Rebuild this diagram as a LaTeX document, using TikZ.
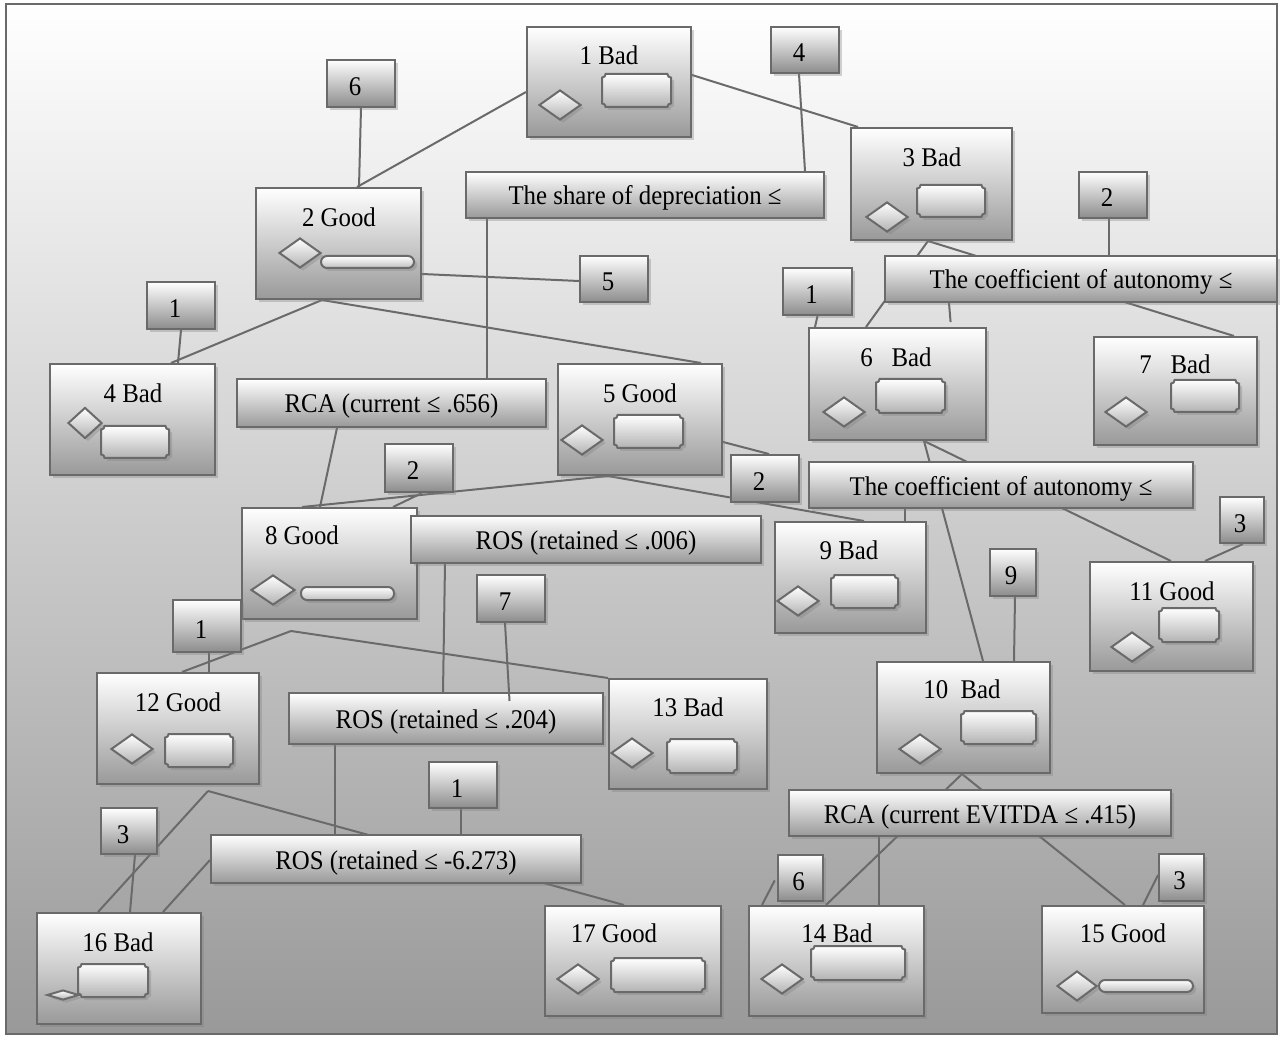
\documentclass[tikz,border=0pt]{standalone}
\usepackage{fontspec}
\setmainfont{Liberation Serif}[FakeStretch=0.92]
\usetikzlibrary{shapes.geometric,shadows}
\pgfdeclarelayer{back}
\pgfdeclarelayer{wires}
\pgfsetlayers{back,wires,main}
\definecolor{edgegray}{HTML}{6A6A6A}
\tikzset{
  shade box/.style={draw=edgegray, line width=1pt, top color=white, bottom color=black!40, inner sep=0pt,
    drop shadow={shadow xshift=1.5pt, shadow yshift=-1.5pt, opacity=0.35}},
  leafbox/.style={shade box, rectangle},
  condbox/.style={shade box, rectangle, font=\fontsize{13.5}{15}\selectfont, text height=11pt, text depth=1pt},
  numbox/.style={shade box, rectangle, bottom color=black!45, font=\fontsize{13.5}{15}\selectfont,
    text height=12pt, text depth=0pt, execute at begin node={\hspace*{-6pt}}},
  numboxr/.style={numbox, execute at begin node={}, execute at end node={\hspace*{-4pt}}},
  leaftext/.style={font=\fontsize{13.5}{15}\selectfont, inner sep=0pt},
  dia/.style={diamond, shade box, bottom color=black!30, minimum width=21pt, minimum height=15pt},
  plq/.style={shade box, bottom color=black!30},
  pill/.style={rectangle, rounded corners=3pt, shade box, bottom color=black!25},
  link/.style={draw=edgegray, line width=1pt},
}
% plaque with notched corners: name, x, y, half width (pt), half height (pt)
\newcommand{\plaquebox}[5]{%
  \coordinate (#1) at (#2,#3);
  \path[plq] ([shift={(-#4pt+1.8pt,#5pt)}]#1) -- ([shift={(#4pt-1.8pt,#5pt)}]#1)
    arc[start angle=180, end angle=270, radius=1.8pt] -- ([shift={(#4pt,-#5pt+1.8pt)}]#1)
    arc[start angle=90, end angle=180, radius=1.8pt] -- ([shift={(-#4pt+1.8pt,-#5pt)}]#1)
    arc[start angle=0, end angle=90, radius=1.8pt] -- ([shift={(-#4pt,#5pt-1.8pt)}]#1)
    arc[start angle=270, end angle=360, radius=1.8pt] -- cycle;}
\begin{document}
\begin{tikzpicture}[x=0.5pt, y=-0.5pt]
  % Frame
  \useasboundingbox (0,0) rectangle (1280,1037);
  \begin{pgfonlayer}{back}
    \fill[white] (0,0) rectangle (1280,1037);
    \draw[draw=edgegray, line width=1pt, top color=white, bottom color=black!40] (6,4) rectangle (1277,1034);
  \end{pgfonlayer}

  % Leaves
  \node[leafbox, minimum width=82pt, minimum height=55pt] (b1) at (609,82) {};
  \node[leafbox, minimum width=82.5pt, minimum height=55.5pt] (b2) at (338.5,243.5) {};
  \node[leafbox, minimum width=80.5pt, minimum height=56pt] (b3) at (931.5,184) {};
  \node[leafbox, minimum width=82.5pt, minimum height=55.5pt] (b4) at (132.5,419.5) {};
  \node[leafbox, minimum width=82pt, minimum height=55.5pt] (b5) at (640,419.5) {};
  \node[leafbox, minimum width=88.5pt, minimum height=56pt] (b6) at (897.5,384) {};
  \node[leafbox, minimum width=81.5pt, minimum height=54pt] (b7) at (1175.5,391) {};
  \node[leafbox, minimum width=87.5pt, minimum height=55.5pt] (b8) at (329.5,563.5) {};
  \node[leafbox, minimum width=75.5pt, minimum height=55.5pt] (b9) at (850.5,577.5) {};
  \node[leafbox, minimum width=86.5pt, minimum height=55.5pt] (b10) at (963.5,717.5) {};
  \node[leafbox, minimum width=81.5pt, minimum height=54.5pt] (b11) at (1171.5,616.5) {};
  \node[leafbox, minimum width=81pt, minimum height=55.5pt] (b12) at (178,728.5) {};
  \node[leafbox, minimum width=79pt, minimum height=55pt] (b13) at (688,734) {};
  \node[leafbox, minimum width=87.5pt, minimum height=55pt] (b14) at (836.5,961) {};
  \node[leafbox, minimum width=81pt, minimum height=53.5pt] (b15) at (1123,959.5) {};
  \node[leafbox, minimum width=82pt, minimum height=55.5pt] (b16) at (119,968.5) {};
  \node[leafbox, minimum width=88pt, minimum height=55pt] (b17) at (633,961) {};

  % Splits
  \node[condbox, minimum width=179pt, minimum height=23pt] (c1) at (645,195) {The share of depreciation ≤};
  \node[condbox, minimum width=196pt, minimum height=23pt] (c2) at (1081,279) {The coefficient of autonomy ≤};
  \node[condbox, minimum width=154.5pt, minimum height=24pt] (c3) at (391.5,403) {RCA (current ≤ .656)};
  \node[condbox, minimum width=192pt, minimum height=23pt] (c4) at (1001,485) {The coefficient of autonomy ≤};
  \node[condbox, minimum width=175pt, minimum height=23.5pt] (c5) at (586,539.5) {ROS (retained ≤ .006)};
  \node[condbox, minimum width=157pt, minimum height=25.5pt] (c6) at (446,718.5) {ROS (retained ≤ .204)};
  \node[condbox, minimum width=191pt, minimum height=23pt] (c7) at (980,813) {RCA (current EVITDA ≤ .415)};
  \node[condbox, minimum width=185pt, minimum height=24pt] (c8) at (396,859) {ROS (retained ≤ -6.273)};

  % Counts
  \node[numbox, minimum width=34pt, minimum height=23.5pt] (n6a) at (361,83.5) {6};
  \node[numbox, minimum width=34pt, minimum height=23pt] (n4a) at (805,50) {4};
  \node[numbox, minimum width=34pt, minimum height=23pt] (n5a) at (614,279) {5};
  \node[numbox, minimum width=34pt, minimum height=23.5pt] (n1a) at (181,305.5) {1};
  \node[numbox, minimum width=34pt, minimum height=23pt] (n2a) at (1113,195) {2};
  \node[numbox, minimum width=34.5pt, minimum height=23.5pt] (n1b) at (817.5,291.5) {1};
  \node[numbox, minimum width=34pt, minimum height=24pt] (n2b) at (419,468) {2};
  \node[numbox, minimum width=34pt, minimum height=23.5pt] (n2c) at (765,478.5) {2};
  \node[numboxr, minimum width=22pt, minimum height=23pt] (n3a) at (1242,520) {3};
  \node[numbox, minimum width=34pt, minimum height=23.5pt] (n7) at (511,598.5) {7};
  \node[numboxr, minimum width=23pt, minimum height=23.5pt] (n9) at (1013,572.5) {9};
  \node[numbox, minimum width=34pt, minimum height=26pt] (n1c) at (207,626) {1};
  \node[numbox, minimum width=34pt, minimum height=23pt] (n1d) at (463,785) {1};
  \node[numbox, execute at begin node={}, minimum width=28pt, minimum height=23pt] (n3b) at (129,831) {3};
  \node[numboxr, minimum width=22.5pt, minimum height=23pt] (n6b) at (800.5,878) {6};
  \node[numboxr, minimum width=22.5pt, minimum height=23.5pt] (n3c) at (1181.5,877.5) {3};

  % Diamonds
  \node[dia] (d1) at (560,105) {};
  \node[dia] (d2) at (300,253) {};
  \node[dia] (d3) at (887,217) {};
  \node[dia, minimum width=17pt, minimum height=15.5pt] (d4) at (85,423) {};
  \node[dia] (d5) at (582,440) {};
  \node[dia] (d6) at (844,412) {};
  \node[dia] (d7) at (1126,412) {};
  \node[dia, minimum width=22pt] (d8) at (273,590) {};
  \node[dia] (d9) at (798,601) {};
  \node[dia] (d10) at (920,749) {};
  \node[dia] (d11) at (1132,647) {};
  \node[dia] (d12) at (132,749) {};
  \node[dia] (d13) at (632,753) {};
  \node[dia] (d14) at (782,979) {};
  \node[dia, minimum width=20pt] (d15) at (1077,986) {};
  \node[dia, minimum width=16pt, minimum height=5pt] (d16) at (63,995) {};
  \node[dia] (d17) at (578,979) {};

  % Plaques and bars
  \plaquebox{p1}{636.5}{90.5}{17.25}{8.25}
  \plaquebox{p3}{951}{201}{17}{8}
  \plaquebox{p4}{135}{442}{17}{8}
  \plaquebox{p5}{648.5}{431.5}{17.25}{8.25}
  \plaquebox{p6}{910.5}{396}{17.25}{8.5}
  \plaquebox{p7}{1205}{396}{17}{8}
  \plaquebox{p9}{864.5}{591.5}{16.75}{8.25}
  \plaquebox{p10}{998.5}{727.5}{18.75}{8.25}
  \plaquebox{p11}{1189}{625}{15}{8.5}
  \plaquebox{p12}{199}{750.5}{17}{8.25}
  \plaquebox{p13}{702}{756}{17.5}{8.5}
  \plaquebox{p14}{858}{963}{23.5}{8.5}
  \plaquebox{p16}{113}{980.5}{17.5}{8.25}
  \plaquebox{p17}{658}{975}{23.5}{8.5}
  \node[pill, minimum width=46.5pt, minimum height=6pt] (r2) at (367.5,262) {};
  \node[pill, minimum width=46.5pt, minimum height=6.5pt] (r8) at (347.5,593.5) {};
  \node[pill, minimum width=47pt, minimum height=6pt] (r15) at (1146,986) {};

  % Leaf labels
  \node[leaftext] (t1) at (609,55) {1 Bad};
  \node[leaftext] (t2) at (339,217) {2 Good};
  \node[leaftext] (t3) at (932,157) {3 Bad};
  \node[leaftext] (t4) at (133,393) {4 Bad};
  \node[leaftext] (t5) at (640,393) {5 Good};
  \node[leaftext] (t6) at (896,357) {6\ \ \ Bad};
  \node[leaftext] (t7) at (1175,364) {7\ \ \ Bad};
  \node[leaftext] (t8) at (302,535) {8 Good};
  \node[leaftext] (t9) at (849,550) {9 Bad};
  \node[leaftext] (t10) at (962,689) {10\ \ Bad};
  \node[leaftext] (t11) at (1172,591) {11 Good};
  \node[leaftext] (t12) at (178,702) {12 Good};
  \node[leaftext] (t13) at (688,707) {13 Bad};
  \node[leaftext] (t14) at (837,933) {14 Bad};
  \node[leaftext] (t15) at (1123,933) {15 Good};
  \node[leaftext] (t16) at (118,942) {16 Bad};
  \node[leaftext] (t17) at (614,933) {17 Good};

  % Branches
  \coordinate (j8) at (291,631);
  \coordinate (j12) at (208,791);
  \begin{pgfonlayer}{wires}
    \draw[link] (b1.west |- 0,92) -- (b2.north -| 357,0);
    \draw[link] (b1.east |- 0,75) -- (b3.north -| 858,0);
    \draw[link] (n6a.south) -- (b2.north -| 359,0);
    \draw[link] (n4a.south -| 799,0) -- (c1.north -| 805,0);
    \draw[link] (b2.east |- 0,274) -- (n5a.west |- 0,281);
    \draw[link] (b2.south -| 322,0) -- (b4.north -| 171,0);
    \draw[link] (b2.south -| 322,0) -- (b5.north -| 701,0);
    \draw[link] (n1a.south) -- (b4.north -| 178,0);
    \draw[link] (c1.south -| 487,0) -- (c3.north -| 487,0);
    \draw[link] (b3.south -| 928,0) -- (b6.north -| 866,0);
    \draw[link] (b3.south -| 928,0) -- (b7.north -| 1234,0);
    \draw[link] (n2a.south -| 1109,0) -- (c2.north -| 1109,0);
    \draw[link, shorten >=2.5pt] (c2.south -| 949,0) -- (b6.north -| 951,0);
    \draw[link] (n1b.south) -- (b6.north -| 815,0);
    \draw[link] (c3.south -| 337,0) -- (b8.north -| 320,0);
    \draw[link] (b5.south -| 608,0) -- (b8.north -| 302,0);
    \draw[link] (n2b.south -| 422,0) -- (b8.north -| 393,0);
    \draw[link] (b5.east |- 0,442) -- (n2c.north -| 769,0);
    \draw[link] (b5.south -| 608,0) -- (b9.north -| 864,0);
    \draw[link] (b6.south -| 924,0) -- (b10.north -| 983,0);
    \draw[link] (b6.south -| 924,0) -- (b11.north -| 1171,0);
    \draw[link] (c4.south -| 905,0) -- (b9.north -| 905,0);
    \draw[link] (n3a.south -| 1243,0) -- (b11.north -| 1205,0);
    \draw[link] (n9.south -| 1015,0) -- (b10.north -| 1014,0);
    \draw[link] (c5.south -| 445,0) -- (c6.north -| 443,0);
    \draw[link] (j8) -- (b12.north -| 182,0);
    \draw[link] (j8) -- (b13.north west);
    \draw[link] (n1c.south -| 209,0) -- (b12.north -| 209,0);
    \draw[link] (c6.south -| 335,0) -- (c8.north -| 335,0);
    \draw[link] (n1d.south -| 461,0) -- (c8.north -| 461,0);
    \draw[link] (j12) -- (b16.north -| 98,0);
    \draw[link] (j12) -- (b17.north -| 624,0);
    \draw[link] (n3b.south -| 135,0) -- (b16.north -| 130,0);
    \draw[link] (c8.west |- 0,860) -- (b16.north -| 163,0);
    \draw[link] (b10.south -| 962,0) -- (b14.north -| 826,0);
    \draw[link] (b10.south -| 962,0) -- (b15.north -| 1125,0);
    \draw[link] (c7.south -| 879,0) -- (b14.north -| 879,0);
    \draw[link, shorten <=2.5pt] (n6b.west |- 0,876) -- (b14.north -| 762,0);
    \draw[link] (n3c.west |- 0,875) -- (b15.north -| 1143,0);
  \end{pgfonlayer}
  \draw[link, shorten >=-4.5pt] (n7.south -| 505,0) -- (c6.north -| 509,0);
\end{tikzpicture}
\end{document}
